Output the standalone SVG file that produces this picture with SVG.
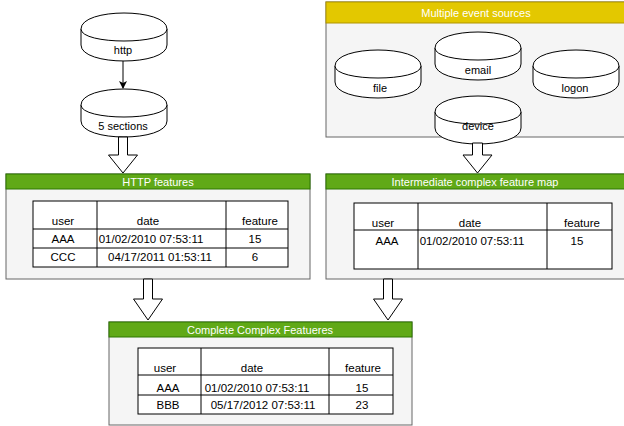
<svg xmlns="http://www.w3.org/2000/svg" width="624" height="426" viewBox="0 0 624 426">
<style>
text{font-family:"Liberation Sans",Arial,sans-serif;fill:#000;text-anchor:middle}
.cyl{fill:#fff;stroke:#000;stroke-width:1}
.ct{font-size:11px}
.hd{font-size:11px;fill:#fff}
.tt{font-size:11.5px}
.box{fill:#f5f5f5;stroke:#666;stroke-width:1}
.gh{fill:#60a917;stroke:#2d7600;stroke-width:1}
.yh{fill:#e3c800;stroke:#b09500;stroke-width:1}
.tb{fill:#fff;stroke:#000;stroke-width:1}
.tl{stroke:#000;stroke-width:1;fill:none}
.ba{fill:#fff;stroke:#000;stroke-width:1}
</style>
<defs>
<g id="cyl">
<path class="cyl" d="M0,16 C0,-5.33 86,-5.33 86,16 L86,32 C86,53.33 0,53.33 0,32 Z"/>
<path class="cyl" d="M0,16 C0,32 86,32 86,16" fill="none"/>
</g>
<marker id="arr" markerWidth="8" markerHeight="8" refX="7" refY="4" orient="auto" markerUnits="userSpaceOnUse">
<path d="M0,0 L8,4 L0,8 L2,4 Z" fill="#000"/>
</marker>
</defs>

<g id="event-sources">
<rect class="box" x="326" y="2" width="304" height="135"/>
<rect class="yh" x="326" y="2" width="304" height="21"/>
<text class="hd" x="476" y="17">Multiple event sources</text>
</g>

<g id="http">
<use href="#cyl" x="81" y="13"/>
<text class="ct" x="123" y="54">http</text>
</g>
<g id="sections">
<use href="#cyl" x="81" y="89"/>
<text class="ct" x="123" y="130">5 sections</text>
</g>
<g id="file">
<use href="#cyl" x="335" y="50"/>
<text class="ct" x="380" y="92">file</text>
</g>
<g id="email">
<use href="#cyl" x="435" y="32"/>
<text class="ct" x="478" y="74">email</text>
</g>
<g id="logon">
<use href="#cyl" x="533" y="50"/>
<text class="ct" x="575" y="92">logon</text>
</g>
<g id="device">
<use href="#cyl" x="435" y="96"/>
<text class="ct" x="478" y="130">device</text>
</g>

<g id="http-features">
<rect class="box" x="6" y="174" width="304" height="105"/>
<rect class="gh" x="6" y="174" width="304" height="15"/>
<text class="hd" x="158" y="185.5">HTTP features</text>
<rect class="tb" x="33" y="201" width="255" height="66"/>
<path class="tl" d="M97,201V267M226,201V267M33,229H288M33,248H288"/>
<text class="tt" x="63" y="225">user</text>
<text class="tt" x="148" y="225">date</text>
<text class="tt" x="260" y="225">feature</text>
<text class="tt" x="63" y="243">AAA</text>
<text class="tt" x="151" y="243">01/02/2010 07:53:11</text>
<text class="tt" x="255" y="243">15</text>
<text class="tt" x="63" y="261">CCC</text>
<text class="tt" x="160" y="261">04/17/2011 01:53:11</text>
<text class="tt" x="255" y="261">6</text>
</g>

<g id="intermediate">
<rect class="box" x="326" y="174" width="304" height="105"/>
<rect class="gh" x="326" y="174" width="304" height="15"/>
<text class="hd" x="475" y="185.5">Intermediate complex feature map</text>
<rect class="tb" x="354" y="203" width="258" height="66"/>
<path class="tl" d="M418,203V269M547,203V269M354,230H612"/>
<text class="tt" x="383" y="227">user</text>
<text class="tt" x="470" y="227">date</text>
<text class="tt" x="582" y="227">feature</text>
<text class="tt" x="387" y="245">AAA</text>
<text class="tt" x="472" y="245">01/02/2010 07:53:11</text>
<text class="tt" x="577" y="245">15</text>
</g>

<g id="complete">
<rect class="box" x="109" y="322" width="303" height="103"/>
<rect class="gh" x="109" y="322" width="303" height="15"/>
<text class="hd" x="260" y="333.5">Complete Complex Featueres</text>
<rect class="tb" x="138" y="348" width="255" height="66"/>
<path class="tl" d="M201,348V414M329,348V414M138,375H393M138,395H393"/>
<text class="tt" x="165" y="372">user</text>
<text class="tt" x="252" y="372">date</text>
<text class="tt" x="363" y="372">feature</text>
<text class="tt" x="168" y="392">AAA</text>
<text class="tt" x="257" y="392">01/02/2010 07:53:11</text>
<text class="tt" x="362" y="392">15</text>
<text class="tt" x="168" y="409">BBB</text>
<text class="tt" x="263" y="409">05/17/2012 07:53:11</text>
<text class="tt" x="362" y="409">23</text>
</g>

<g id="connectors">
<path d="M123,61 V88" stroke="#000" stroke-width="1" fill="none" marker-end="url(#arr)"/>
<path class="ba" d="M118.5,137 H127.5 V155 H137.5 L123,173 L108.5,155 H118.5 Z"/>
<path class="ba" d="M472.5,143 H482.5 V155 H492 L477.5,173 L463,155 H472.5 Z"/>
<path class="ba" d="M143.5,279 H152.5 V299 H162.5 L148,320 L133.5,299 H143.5 Z"/>
<path class="ba" d="M383.5,279 H392.5 V299 H402.5 L388,320 L373.5,299 H383.5 Z"/>
</g>
</svg>
